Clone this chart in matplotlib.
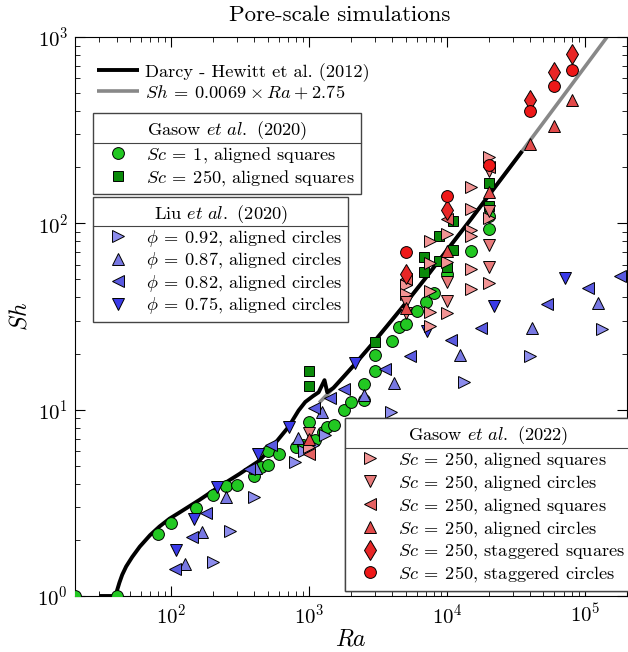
import numpy as np
import matplotlib
matplotlib.use("Agg")
import matplotlib.pyplot as plt
from matplotlib.lines import Line2D

plt.rcParams.update({
    "font.family": "serif",
    "font.serif": ["cmr10", "DejaVu Serif"],
    "mathtext.fontset": "cm",
    "axes.unicode_minus": False,
    "axes.formatter.use_mathtext": True,
})

# ---------------- data ----------------
# Darcy curve (Hewitt et al. 2012)
darcy_ra = [30, 39.5, 40.5, 42, 44, 47, 52, 59, 70, 82, 97, 114, 159, 222, 309, 431,
            537, 709, 837, 936, 1060, 1170, 1290, 1350, 1500, 1800, 2150, 2830, 3735,
            4920, 7000, 10000, 15000, 20000, 28000, 35000]
darcy_sh = [1, 1, 1.08, 1.18, 1.3, 1.44, 1.62, 1.84, 2.12, 2.36, 2.6, 2.8, 3.27, 3.86,
            4.5, 5.3, 6.3, 8.1, 9.9, 11.0, 11.8, 12.4, 14.4, 12.4, 13.1, 15.2, 17.6,
            22.3, 28.6, 36.7, 51, 72, 106, 141, 196, 244]
# Linear fit Sh = a*Ra + b
fit_a, fit_b = 0.0069, 2.75
fit_ra_range = [1180, 2.0e5]

# Gasow et al. (2020)
g20_sc1_ra = [20, 40, 80, 100, 150, 200, 250, 300, 400, 450, 500, 500, 600, 800, 900,
              1000, 1100, 1250, 1350, 1500, 1800, 2000, 2500, 2500, 3000, 3000, 4000,
              4500, 5000, 6000, 7000, 8000, 10000, 15000, 20000, 20000]
g20_sc1_sh = [1, 1, 2.15, 2.47, 2.95, 3.5, 3.9, 3.95, 4.4, 4.9, 5.05, 6.0, 5.8, 6.3, 6.5,
              8.6, 6.9, 7.6, 8.1, 8.3, 9.9, 11.0, 11.3, 13.7, 16.2, 19.7, 23.3,
              27.7, 29, 34, 38, 42.5, 53.5, 71, 93, 110]
g20_sc250_ra = [1000, 1000, 3000, 6800, 6800, 8800, 8800, 10000, 11000, 11000, 20000, 20000]
g20_sc250_sh = [16.2, 13.4, 23, 66, 55, 86, 63, 58, 103, 72, 165, 124]

# Liu et al. (2020)
liu092_ra = [200, 265, 396, 793, 910, 1057, 1303, 3945, 13300, 40000, 132000]
liu092_sh = [1.53, 2.24, 3.39, 5.26, 6.0, 6.5, 7.3, 9.76, 14.1, 19.4, 27]
liu087_ra = [126, 168, 248, 408, 828, 1233, 2500, 4120, 12500, 41400, 124000]
liu087_sh = [1.48, 2.2, 3.39, 4.84, 7.05, 9.7, 12.0, 13.9, 19.7, 27.3, 37.3]
liu082_ra = [107, 142, 178, 365, 530, 1080, 1420, 1780, 3530, 5350, 10700, 17500, 53000, 106000, 180000]
liu082_sh = [1.39, 2.08, 2.78, 4.79, 6.5, 10.25, 11.5, 12.85, 16.5, 19.3, 23.7, 27.6, 37, 45, 52]
liu075_ra = [108, 145, 216, 428, 715, 2150, 7160, 21700, 72000]
liu075_sh = [1.77, 2.58, 3.83, 5.8, 8.1, 17.9, 26.5, 36, 51]

# Gasow et al. (2022)
g22_as_r_ra = [1000, 5000, 5000, 7500, 7500, 7500, 7500, 7500, 10000, 10000, 10000,
               15000, 15000, 15000, 15000, 15000, 15000, 20000, 20000, 20000]
g22_as_r_sh = [6.3, 46.6, 41.8, 80, 61, 43.6, 33.6, 28, 88, 62, 33,
               157, 119, 92, 85, 56.8, 44.5, 228, 107, 48]
g22_ac_v_ra = [1000, 5000, 5000, 10000, 10000, 20000, 20000, 20000, 20000]
g22_ac_v_sh = [7.5, 38, 33, 48.6, 38.5, 192, 116, 76.5, 58.6]
g22_as_l_ra = [1000, 5000, 10000, 20000]
g22_as_l_sh = [5.8, 50, 105, 200]
g22_ac_u_ra = [1000, 5000, 10000, 20000, 40000, 60000, 80000]
g22_ac_u_sh = [7.0, 35, 71, 148, 266, 332, 458]
g22_ss_ra = [5000, 10000, 40000, 60000, 80000]
g22_ss_sh = [53.5, 118, 458, 650, 808]
g22_sci_ra = [5000, 10000, 20000, 40000, 60000, 80000]
g22_sci_sh = [70, 140, 205, 401, 544, 668]

# ---------------- figure ----------------
W, H = 628, 652
fig = plt.figure(figsize=(W / 100, H / 100), dpi=100)
ax_l, ax_r, ax_t, ax_b = 75, 626.5, 37, 596
ax = fig.add_axes([ax_l / W, 1 - ax_b / H, (ax_r - ax_l) / W, (ax_b - ax_t) / H])
ax.set_xscale("log")
ax.set_yscale("log")
ax.set_xlim(20, 2e5)
ax.set_ylim(1, 1000)

fit_ra = np.geomspace(fit_ra_range[0], fit_ra_range[1], 200)
l_fit, = ax.plot(fit_ra, fit_a * fit_ra + fit_b, color="#888888", lw=2.6, zorder=2,
                 solid_capstyle="butt")
l_darcy, = ax.plot(darcy_ra, darcy_sh, color="black", lw=2.8, zorder=2.5,
                   solid_capstyle="butt", solid_joinstyle="round")

mk = dict(ls="none", mec="black", mew=0.7, zorder=3)
h_g1, = ax.plot(g20_sc1_ra, g20_sc1_sh, marker="o", ms=8.5, mfc="#22c822", **mk)
h_g2, = ax.plot(g20_sc250_ra, g20_sc250_sh, marker="s", ms=7.5, mfc="#0a8a0a", **mk)

h_l1, = ax.plot(liu092_ra, liu092_sh, marker=">", ms=9, mfc="#8c8cec", **mk)
h_l2, = ax.plot(liu087_ra, liu087_sh, marker="^", ms=9, mfc="#7878e2", **mk)
h_l3, = ax.plot(liu082_ra, liu082_sh, marker="<", ms=9, mfc="#5a5ae0", **mk)
h_l4, = ax.plot(liu075_ra, liu075_sh, marker="v", ms=9, mfc="#3a3ae8", **mk)

h_p1, = ax.plot(g22_as_r_ra, g22_as_r_sh, marker=">", ms=9, mfc="#f29494", **mk)
h_p2, = ax.plot(g22_ac_v_ra, g22_ac_v_sh, marker="v", ms=9, mfc="#e87a7a", **mk)
h_p3, = ax.plot(g22_as_l_ra, g22_as_l_sh, marker="<", ms=9, mfc="#e46262", **mk)
h_p4, = ax.plot(g22_ac_u_ra, g22_ac_u_sh, marker="^", ms=9, mfc="#e24a4a", **mk)
h_p5, = ax.plot(g22_ss_ra, g22_ss_sh, marker="d", ms=10, mfc="#e82626", **mk)
h_p6, = ax.plot(g22_sci_ra, g22_sci_sh, marker="o", ms=8.5, mfc="#ee1818", **mk)

ax.tick_params(which="both", direction="in", top=True, right=True, labelsize=15, pad=5)
ax.tick_params(which="major", length=7, width=0.8)
ax.tick_params(which="minor", length=3.5, width=0.6)
for s in ax.spines.values():
    s.set_linewidth(0.8)

ax.set_xlabel(r"$Ra$", fontsize=17, labelpad=1)
ax.set_ylabel(r"$Sh$", fontsize=17, labelpad=4)
fig.text(340 / W, 1 - 15 / H, "Pore-scale simulations", ha="center", va="center", fontsize=16.5)

fs = 13.2
EQ = r"\:=\:"
leg_kw = dict(fontsize=fs, fancybox=False, borderaxespad=0, handletextpad=0.55,
              borderpad=0.35, loc="upper left", framealpha=1,
              edgecolor="#444444", title_fontsize=fs, handlelength=2.0)

def axfrac(px, py):
    return ((px - ax_l) / (ax_r - ax_l), (ax_b - py) / (ax_b - ax_t))

leg1 = ax.legend([l_darcy, l_fit],
                 ["Darcy - Hewitt et al. (2012)",
                  r"$Sh" + EQ + r"0.0069 \:\times\: Ra \:+\: 2.75$"],
                 loc="upper left", bbox_to_anchor=axfrac(97, 63), frameon=False,
                 fontsize=fs, handlelength=2.3, handletextpad=0.3, borderpad=0,
                 borderaxespad=0, labelspacing=0.1)
ax.add_artist(leg1)

leg2 = ax.legend([h_g1, h_g2],
                 [r"$Sc" + EQ + r"1$, aligned squares", r"$Sc" + EQ + r"250$, aligned squares"],
                 title=r"Gasow $\mathit{et\ al.}$ (2020)", labelspacing=0.16,
                 bbox_to_anchor=axfrac(93, 113), **leg_kw)
ax.add_artist(leg2)

leg3 = ax.legend([h_l1, h_l2, h_l3, h_l4],
                 [r"$\phi" + EQ + r"0.92$, aligned circles", r"$\phi" + EQ + r"0.87$, aligned circles",
                  r"$\phi" + EQ + r"0.82$, aligned circles", r"$\phi" + EQ + r"0.75$, aligned circles"],
                 title=r"Liu $\mathit{et\ al.}$ (2020)", labelspacing=0.08,
                 bbox_to_anchor=axfrac(93, 197), **leg_kw)
ax.add_artist(leg3)

leg4 = ax.legend([h_p1, h_p2, h_p3, h_p4, h_p5, h_p6],
                 [r"$Sc" + EQ + r"250$, aligned squares", r"$Sc" + EQ + r"250$, aligned circles",
                  r"$Sc" + EQ + r"250$, aligned squares", r"$Sc" + EQ + r"250$, aligned circles",
                  r"$Sc" + EQ + r"250$, staggered squares", r"$Sc" + EQ + r"250$, staggered circles"],
                 title=r"Gasow $\mathit{et\ al.}$ (2022)", labelspacing=0.16,
                 bbox_to_anchor=axfrac(345, 418), **leg_kw)
ax.add_artist(leg4)

for lg in (leg1, leg2, leg3, leg4):
    lg.set_zorder(5)

fig.canvas.draw()
renderer = fig.canvas.get_renderer()
for lg in (leg2, leg3, leg4):
    fb = lg.get_frame().get_window_extent(renderer)
    tb = lg.get_title().get_window_extent(renderer)
    eb = lg.get_texts()[0].get_window_extent(renderer)
    y = 0.5 * (tb.y0 + eb.y1) + 1
    fig.add_artist(Line2D([fb.x0 / W, fb.x1 / W], [y / H, y / H],
                          transform=fig.transFigure, color="#444444", lw=0.8, zorder=6))

fig.savefig("out.png", dpi=100)
